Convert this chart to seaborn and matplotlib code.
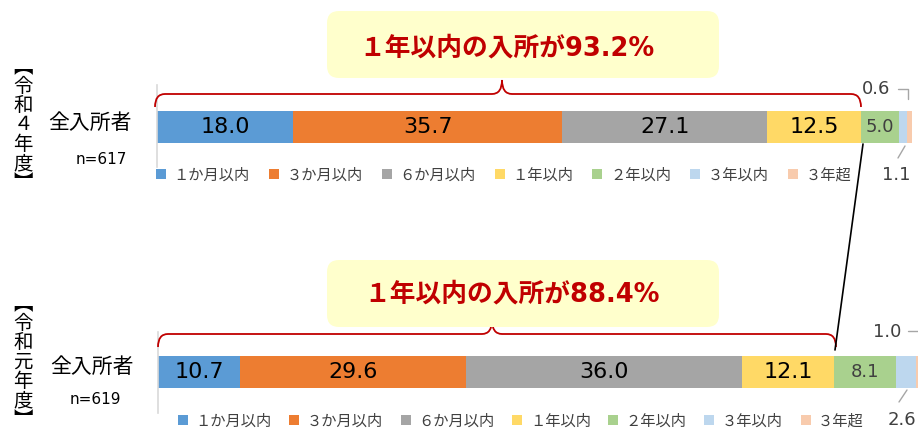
import numpy as np
import pandas as pd
import matplotlib.pyplot as plt
import seaborn as sns
from matplotlib.patches import FancyBboxPatch, PathPatch, Patch
from matplotlib.path import Path
from matplotlib.lines import Line2D

# データ
categories = ['１か月以内', '３か月以内', '６か月以内', '１年以内', '２年以内', '３年以内', '３年超']
colors = ['#5B9BD5', '#ED7D31', '#A5A5A5', '#FFD966', '#A9D18E', '#BDD7EE', '#F8CBAD']
r4_values = [18.0, 35.7, 27.1, 12.5, 5.0, 1.1, 0.6]
r1_values = [10.7, 29.6, 36.0, 12.1, 8.1, 2.6, 1.0]
row_label = '全入所者'
r4_n = 'n=617'
r1_n = 'n=619'
r4_year = '︻令和４年度︼'
r1_year = '︻令和元年度︼'
r4_callout = '１年以内の入所が93.2%'
r1_callout = '１年以内の入所が88.4%'

sns.set_theme(style='white')
plt.rcParams['font.family'] = ['DejaVu Sans', 'Noto Sans CJK JP']

W, H = 918, 430
fig = plt.figure(figsize=(W / 100, H / 100), dpi=100)
T = fig.dpi_scale_trans
RED = '#C00000'
GREY_TXT = '#404040'
LEADER = '#A6A6A6'


def P(x, y):
    # pixel (top-left origin) -> inches
    return x / 100, (H - y) / 100


def draw_bar(left, right, top, bottom, bar_top, bar_bottom, values, legend_x, legend_y, colspace):
    ax = fig.add_axes([left / W, 1 - bottom / H, (right - left) / W, (bottom - top) / H])
    cum = np.cumsum(values)
    df = pd.DataFrame({'cat': categories, 'cum': cum, 'row': row_label})
    hgt = bottom - top
    center = (bar_top + bar_bottom) / 2
    sns.barplot(data=df, x='cum', y='row', hue='cat', hue_order=categories[::-1],
                palette=dict(zip(categories, colors)), dodge=False,
                width=(bar_bottom - bar_top) / hgt, saturation=1, linewidth=0,
                legend=False, ax=ax)
    ax.set_xlim(0, 100)
    ax.set_ylim((bottom - center) / hgt, -(center - top) / hgt)
    ax.set_xticks([])
    ax.set_yticks([])
    ax.set_xlabel('')
    ax.set_ylabel('')
    sns.despine(ax=ax, left=False, bottom=True)
    ax.spines['left'].set_color('#D9D9D9')
    ax.spines['left'].set_linewidth(1.2)

    starts = cum - np.array(values)
    for i, v in enumerate(values):
        if v < 3:
            continue
        if i < 4:
            ax.text(starts[i] + v / 2, 0, f'{v:.1f}', ha='center', va='center',
                    fontsize=16, color='black')
        else:
            ax.text(starts[i] + v / 2, 0, f'{v:.1f}', ha='center', va='center',
                    fontsize=13, color=GREY_TXT)

    handles = [Patch(facecolor=c, edgecolor='none') for c in colors]
    ax.legend(handles, categories, loc='center left',
              bbox_to_anchor=(legend_x / W, 1 - legend_y / H), bbox_transform=fig.transFigure,
              ncol=7, frameon=False, fontsize=11, handlelength=0.65, handleheight=0.65,
              handletextpad=0.5, columnspacing=colspace, borderaxespad=0, borderpad=0,
              labelcolor=GREY_TXT)
    return ax


def brace(x0, x1, xp, yb, yp, drop=13, r=10):
    pts = [(x0, yb + drop), (x0, yb), (x0 + r, yb),
           (xp - 10, yb), (xp, yb), (xp, yp),
           (xp, yb), (xp + 10, yb),
           (x1 - r, yb), (x1, yb), (x1, yb + drop)]
    codes = [Path.MOVETO, Path.CURVE3, Path.CURVE3,
             Path.LINETO, Path.CURVE3, Path.CURVE3,
             Path.CURVE3, Path.CURVE3,
             Path.LINETO, Path.CURVE3, Path.CURVE3]
    path = Path([P(*p) for p in pts], codes)
    fig.patches.append(PathPatch(path, fc='none', ec=RED, lw=1.3, transform=T))


def callout(x0, x1, y0, y1, text, tx, ty):
    bx, by = P(x0, y1)
    box = FancyBboxPatch((bx, by), (x1 - x0) / 100, (y1 - y0) / 100,
                         boxstyle='round,pad=0,rounding_size=0.12',
                         fc='#FFFFCC', ec='none', transform=T)
    fig.patches.append(box)
    fig.text(*P(tx, ty), text, transform=T, ha='center', va='center',
             fontsize=18.5, fontweight='bold', color=RED)


def line(xs, ys, color, lw=1.0):
    pts = [P(x, y) for x, y in zip(xs, ys)]
    fig.lines.append(Line2D([p[0] for p in pts], [p[1] for p in pts],
                            color=color, lw=lw, transform=T))


def vertical_label(text, x, y):
    fig.text(*P(x, y), '\n'.join(text), transform=T, ha='center', va='center',
             multialignment='center', fontsize=14, color='black',
             linespacing=0.9, family=['Noto Sans CJK JP'])


# 令和４年度
draw_bar(157, 912, 85, 167, 111, 143, r4_values, 156, 175, 1.25)
# 令和元年度
draw_bar(158, 923, 332, 413, 356, 388, r1_values, 178, 421, 1.15)

brace(155, 861, 502, 94, 80)
brace(158, 836, 492, 334, 320)
callout(327, 719, 11, 78, r4_callout, 507, 48)
callout(327, 719, 260, 327, r1_callout, 512, 294)

line([863, 835], [144, 350], 'black', 1.2)

# 小さい値のラベル
fig.text(*P(876, 89), f'{r4_values[6]:.1f}', transform=T, ha='center', va='center', fontsize=13, color=GREY_TXT)
line([898, 908, 908], [89, 89, 99], LEADER)
fig.text(*P(896, 175), f'{r4_values[5]:.1f}', transform=T, ha='center', va='center', fontsize=13, color=GREY_TXT)
line([898, 905], [158, 146], LEADER)
fig.text(*P(887, 332), f'{r1_values[6]:.1f}', transform=T, ha='center', va='center', fontsize=13, color=GREY_TXT)
line([908, 918], [331, 331], LEADER)
fig.text(*P(902, 420), f'{r1_values[5]:.1f}', transform=T, ha='center', va='center', fontsize=13, color=GREY_TXT)
line([899, 907], [402, 390], LEADER)

# 左側のラベル
vertical_label(r4_year, 23, 125)
vertical_label(r1_year, 23, 362)
fig.text(*P(90, 123), row_label, transform=T, ha='center', va='center', fontsize=15, color='black')
fig.text(*P(101, 160), r4_n, transform=T, ha='center', va='center', fontsize=11, color='black')
fig.text(*P(92, 367), row_label, transform=T, ha='center', va='center', fontsize=15, color='black')
fig.text(*P(95, 399), r1_n, transform=T, ha='center', va='center', fontsize=11, color='black')

fig.savefig('out.png', dpi=100)
